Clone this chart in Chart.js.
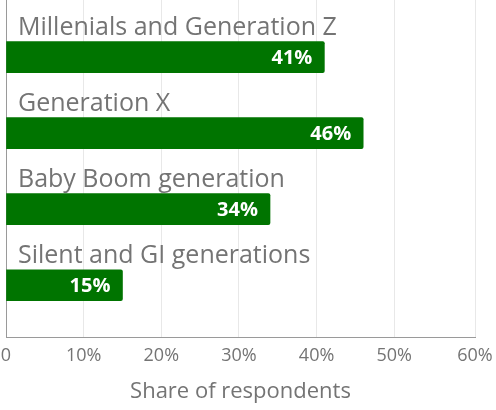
<!DOCTYPE html>
<html>
<head>
<meta charset="utf-8">
<script src="https://cdn.jsdelivr.net/npm/chart.js@4.4.1/dist/chart.umd.min.js"></script>
<style>
  html, body { margin: 0; padding: 0; background: #fff; }
  #wrap { width: 496px; height: 410px; position: relative; }
</style>
</head>
<body>
<div id="wrap"><canvas id="chart"></canvas></div>
<script>
// Share of respondents by generation
const categories = ['Millenials and Generation Z', 'Generation X', 'Baby Boom generation', 'Silent and GI generations'];
const shares = [41, 46, 34, 15];
const xTicks = [0, 10, 20, 30, 40, 50, 60];

const GREEN = '#007400';
const TEXT = '#747474';
const FONT = "'Open Sans', 'DejaVu Sans', sans-serif";

// draws category name above each bar and the value inside its end
const barLabels = {
  id: 'barLabels',
  afterDatasetsDraw(chart) {
    const ctx = chart.ctx;
    const meta = chart.getDatasetMeta(0);
    const left = chart.chartArea.left;
    ctx.save();
    meta.data.forEach((bar, i) => {
      const top = bar.y - bar.height / 2;
      ctx.font = `25px ${FONT}`;
      ctx.fillStyle = TEXT;
      ctx.textAlign = 'left';
      ctx.textBaseline = 'alphabetic';
      ctx.fillText(categories[i], left + 12, top - 7);

      ctx.font = `bold 20px ${FONT}`;
      ctx.fillStyle = '#fff';
      ctx.textAlign = 'right';
      ctx.textBaseline = 'middle';
      ctx.fillText(shares[i] + '%', bar.x - 12, bar.y + 1);
    });
    ctx.restore();
  }
};

new Chart(document.getElementById('chart'), {
  type: 'bar',
  data: {
    datasets: [{
      data: shares.map((v, i) => ({ x: v, y: i })),
      backgroundColor: GREEN,
      borderRadius: 2,
      barThickness: 31,
    }],
  },
  options: {
    indexAxis: 'y',
    responsive: true,
    maintainAspectRatio: false,
    animation: false,
    layout: { padding: { top: 0, right: 21, left: 6, bottom: 1 } },
    plugins: { legend: { display: false }, tooltip: { enabled: false } },
    scales: {
      x: {
        type: 'linear',
        min: 0, max: 60.4,
        // last tick sits on the axis end, like the original
        afterBuildTicks: (s) => {
          s.ticks = xTicks.map((v, i) => ({ value: i === xTicks.length - 1 ? s.max : v }));
        },
        afterFit: (s) => { s.paddingLeft = 0; s.paddingRight = 0; },
        ticks: {
          color: TEXT,
          font: { family: FONT, size: 18 },
          padding: 8,
          callback: (v, i) => xTicks[i] === 0 ? '0' : xTicks[i] + '%',
        },
        grid: { color: '#e8e8e8', drawTicks: false },
        border: { display: true, color: '#9a9a9a' },
        title: {
          display: true,
          text: 'Share of respondents',
          color: TEXT,
          font: { family: FONT, size: 22 },
          padding: { top: 4 },
        },
      },
      y: {
        type: 'linear',
        offset: false,
        reverse: true,
        min: -0.75, max: 3.68,
        ticks: { display: false, padding: 0 },
        grid: { display: false, drawTicks: false },
        border: { display: true, color: '#9a9a9a' },
        afterFit: (s) => { s.width = 0; },
      },
    },
  },
  plugins: [barLabels],
});
</script>
</body>
</html>
